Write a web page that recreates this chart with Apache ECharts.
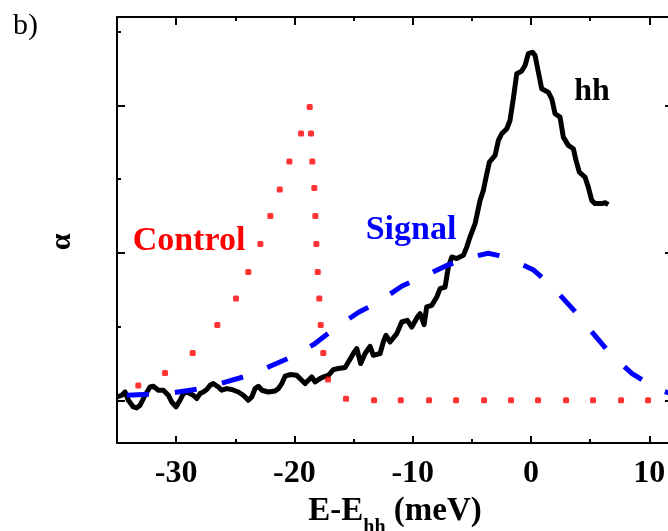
<!DOCTYPE html>
<html>
<head>
<meta charset="utf-8">
<script src="https://cdn.jsdelivr.net/npm/echarts@6/dist/echarts.min.js"></script>
<style>
html,body{margin:0;padding:0;background:#fff;}
#chart{width:668px;height:531px;}
</style>
</head>
<body>
<div id="chart"></div>
<script>
// hh absorption (black solid)
var hhE=[-35.0,-34.6,-34.32,-34.04,-33.62,-33.33,-33.05,-32.63,-32.21,-31.93,
  -31.5,-31.08,-30.66,-30.37,-30.01,-29.67,-29.39,-29.1,-28.55,-28.26,
  -27.98,-27.7,-27.41,-27.13,-26.86,-26.43,-26.15,-25.72,-25.3,-24.74,
  -24.32,-23.9,-23.61,-23.33,-23.05,-22.76,-22.21,-21.64,-21.36,-21.07,
  -20.79,-20.37,-19.81,-19.38,-19.1,-18.83,-18.54,-18.26,-17.84,-17.56,
  -17.13,-16.71,-16.29,-15.72,-15.44,-15.02,-14.73,-14.4,-14.03,-13.61,
  -13.33,-12.76,-12.49,-12.26,-11.92,-11.35,-10.93,-10.46,-10.08,-9.61,
  -9.38,-9.04,-8.82,-8.39,-7.97,-7.69,-7.27,-6.99,-6.7,-6.28,
  -5.72,-5.44,-5.16,-4.73,-4.31,-4.03,-3.74,-3.52,-3.04,-2.76,
  -2.48,-2.05,-1.78,-1.5,-1.21,-0.79,-0.51,-0.23,0.11,0.34,
  0.62,0.9,1.46,1.75,2.03,2.45,2.73,3.15,3.58,3.8,
  4.08,4.56,4.84,5.13,5.41,5.98,6.26,6.53];
var hhA=[0.022,0.034,0.056,0,-0.045,-0.052,-0.034,0.034,0.09,0.095,
  0.068,0.068,0.034,-0.012,-0.045,0,0.045,0.056,0.034,0.012,
  0.045,0.056,0.073,0.102,0.113,0.09,0.068,0.079,0.073,0.056,
  0.034,0,0.022,0.079,0.095,0.068,0.056,0.063,0.079,0.113,
  0.163,0.174,0.169,0.136,0.113,0.136,0.158,0.124,0.147,0.158,
  0.169,0.208,0.215,0.222,0.26,0.317,0.351,0.249,0.317,0.366,
  0.305,0.317,0.395,0.441,0.395,0.452,0.531,0.542,0.497,0.565,
  0.588,0.513,0.633,0.644,0.7,0.757,0.768,0.904,0.972,0.961,
  0.983,1.039,1.107,1.198,1.356,1.424,1.537,1.616,1.661,1.763,
  1.808,1.842,1.898,2.045,2.215,2.233,2.271,2.351,2.361,2.339,
  2.226,2.113,2.09,2.045,1.944,1.921,1.785,1.729,1.706,1.627,
  1.548,1.514,1.446,1.356,1.334,1.334,1.34,1.327];

// Signal (blue dashed)
var sigE=[-35.0,-34.15,-32.29,-30.18,-28.23,-26.29,-24.34,-22.32,-20.54,-18.34,
  -16.74,-14.54,-13.02,-10.9,-9.21,-7.1,-5.58,-3.63,-2.79,-1.94,
  0.17,1.78,3.63,4.9,6.76,8.54,10.65,11.58,12.0];
var sigA=[0.027,0.034,0.041,0.052,0.075,0.113,0.158,0.222,0.283,0.38,
  0.479,0.599,0.66,0.775,0.836,0.915,0.961,0.997,0.983,0.963,
  0.886,0.773,0.61,0.486,0.31,0.181,0.075,0.052,0.041];

// Control (red dotted)
var ctlE=[-33.2,-30.94,-28.6,-26.52,-24.94,-23.9,-22.88,-22.04,-21.24,-20.43,
  -19.44,-18.71,-18.6,-18.49,-18.32,-18.23,-18.15,-18.03,-17.9,-17.78,
  -17.56,-17.16,-15.64,-13.27,-11.01,-8.62,-6.34,-3.97,-1.69,0.59,
  2.96,5.24,7.61,9.89];
var ctlA=[0.1,0.185,0.32,0.51,0.69,0.87,1.06,1.25,1.43,1.62,
  1.81,1.99,1.81,1.62,1.44,1.25,1.06,0.87,0.69,0.51,
  0.32,0.14,0.01,0,0,0,0,0,0,0,
  0,0,0,0];

// ticks
var xMajor=[-30,-20,-10,0,10];
var xMinor=[-25,-15,-5,5];
var yMajor=[0,1,2];
var yMinor=[0.5,1.5,2.5];

function zip(a,b){
  var out=[];
  for(var i=0;i<a.length;i++){ out.push([a[i],b[i]]); }
  return out;
}

var serif='"Liberation Serif","Times New Roman",serif';
var black='#000';

function xAx(pos,ticks,len,showLine,showLabel){
  return {
    type:'value',position:pos,min:-35,max:12,
    axisLine:{show:showLine,onZero:false,lineStyle:{color:black,width:2}},
    axisTick:{show:true,inside:true,length:len,customValues:ticks,lineStyle:{color:black,width:2}},
    axisLabel:{show:showLabel,customValues:ticks,margin:15,color:black,
      fontFamily:serif,fontWeight:'bold',fontSize:32},
    splitLine:{show:false}
  };
}
function yAx(pos,ticks,len,showLine){
  return {
    type:'value',position:pos,min:-0.29,max:2.6,
    axisLine:{show:showLine,onZero:false,lineStyle:{color:black,width:2}},
    axisTick:{show:true,inside:true,length:len,customValues:ticks,lineStyle:{color:black,width:2}},
    axisLabel:{show:false},
    splitLine:{show:false}
  };
}

var xBottom=xAx('bottom',xMajor,7,true,true);
xBottom.name='{m|E-E}{s|hh}{m| (meV)}';
xBottom.nameLocation='middle';
xBottom.nameGap=52;
xBottom.nameTextStyle={color:black,fontFamily:serif,fontWeight:'bold',
  rich:{
    m:{fontSize:33,fontFamily:serif,fontWeight:'bold',color:black,lineHeight:32,verticalAlign:'top'},
    s:{fontSize:20,fontFamily:serif,fontWeight:'bold',color:black,lineHeight:43,verticalAlign:'bottom'}
  }};

var yLeft=yAx('left',yMajor,8,true);
yLeft.name='α';
yLeft.nameLocation='middle';
yLeft.nameRotate=90;
yLeft.nameGap=40;
yLeft.nameTextStyle={color:black,fontFamily:serif,fontWeight:'bold',fontSize:30,padding:[0,24,0,0]};

var chart=echarts.init(document.getElementById('chart'));
chart.setOption({
  animation:false,
  backgroundColor:'#fff',
  grid:{left:117,top:17,right:-5,bottom:88,containLabel:false,outerBoundsMode:'none'},
  xAxis:[
    xBottom,
    xAx('bottom',xMinor,4,false,false),
    xAx('top',xMajor,8,true,false),
    xAx('top',xMinor,4,false,false)
  ],
  yAxis:[
    yLeft,
    yAx('left',yMinor,4,false),
    yAx('right',yMajor,8,true),
    yAx('right',yMinor,4,false)
  ],
  series:[
    {name:'hh',type:'line',data:zip(hhE,hhA),showSymbol:false,
      lineStyle:{color:black,width:5,join:'round'},z:2},
    {name:'Signal',type:'line',data:zip(sigE,sigA),showSymbol:false,
      lineStyle:{color:'#0000ff',width:5,type:[22,26],dashOffset:38,cap:'butt'},z:3},
    {name:'Control',type:'scatter',data:zip(ctlE,ctlA),symbol:'roundRect',symbolSize:[6,6],
      itemStyle:{color:'#ff0000'},z:4}
  ],
  graphic:[
    {type:'text',style:{x:13,y:26,text:'b)',font:'30px '+serif,fill:black,textAlign:'left',textVerticalAlign:'middle'}},
    {type:'text',style:{x:189,y:241,text:'Control',font:'bold 34px '+serif,fill:'#ff0000',textAlign:'center',textVerticalAlign:'middle'}},
    {type:'text',style:{x:411,y:230,text:'Signal',font:'bold 34px '+serif,fill:'#0000ff',textAlign:'center',textVerticalAlign:'middle'}},
    {type:'text',style:{x:592,y:92,text:'hh',font:'bold 32px '+serif,fill:black,textAlign:'center',textVerticalAlign:'middle'}}
  ]
});
</script>
</body>
</html>
